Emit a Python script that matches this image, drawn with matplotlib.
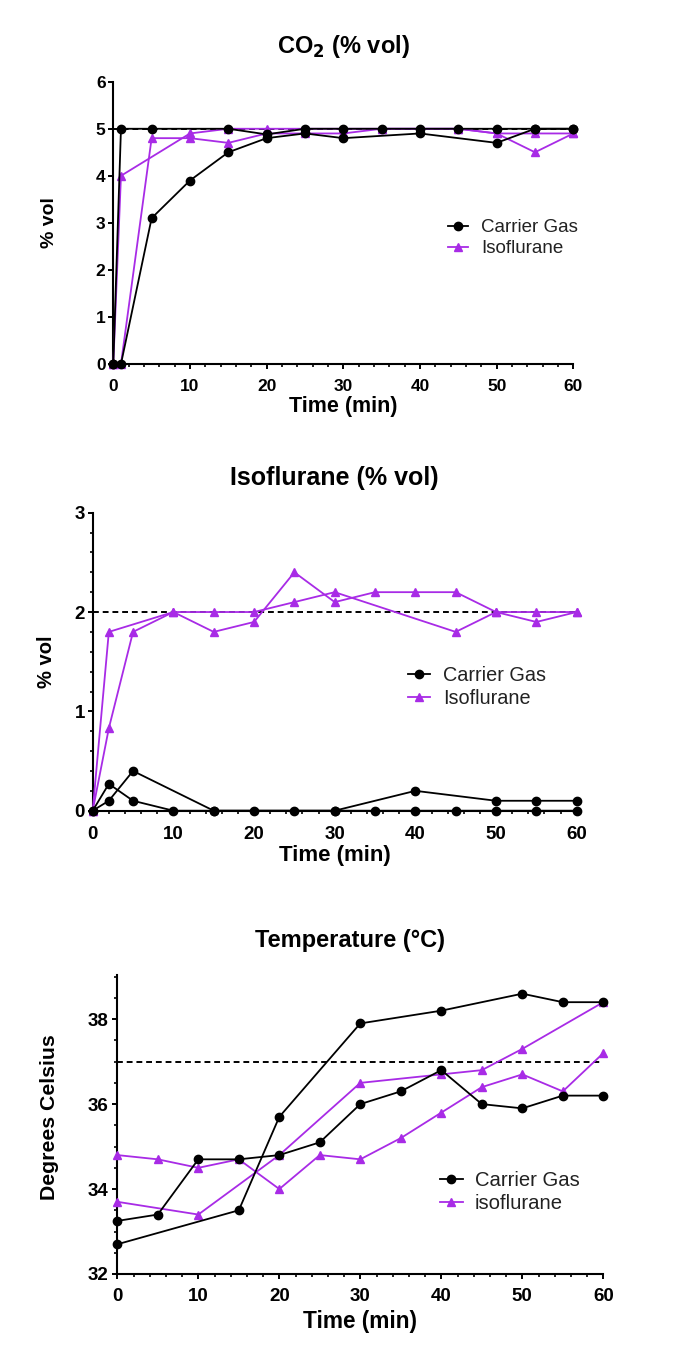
import matplotlib
matplotlib.use("Agg")
import matplotlib.pyplot as plt
from matplotlib.ticker import MultipleLocator
from matplotlib.lines import Line2D

plt.rcParams['font.family'] = ['Liberation Sans', 'DejaVu Sans']
plt.rcParams['font.weight'] = 'bold'

BLACK = '#000000'
PURPLE = '#A82BE6'

# ---- Panel 1: CO2 (% vol) ----
co2_cg1_x = [0, 1, 5, 15, 20, 25, 30, 35, 40, 45, 50, 55, 60]
co2_cg1_y = [0, 5.0, 5.0, 5.0, 4.88, 5.0, 5.0, 5.0, 5.0, 5.0, 5.0, 5.0, 5.0]
co2_cg2_x = [0, 1, 5, 10, 15, 20, 25, 30, 40, 50, 55, 60]
co2_cg2_y = [0, 0, 3.1, 3.9, 4.5, 4.8, 4.9, 4.8, 4.9, 4.7, 5.0, 5.0]
co2_iso1_x = [0, 1, 10, 15, 20, 25, 30, 35, 40, 45, 50, 55, 60]
co2_iso1_y = [0, 4.0, 4.9, 5.0, 5.0, 5.0, 5.0, 5.0, 5.0, 5.0, 4.9, 4.9, 4.9]
co2_iso2_x = [0, 1, 5, 10, 15, 20, 25, 30, 35, 40, 45, 50, 55, 60]
co2_iso2_y = [0, 0, 4.8, 4.8, 4.7, 4.9, 4.9, 4.9, 5.0, 5.0, 5.0, 4.9, 4.5, 4.9]
co2_target = 5

# ---- Panel 2: Isoflurane (% vol) ----
iso_cg1_x = [0, 2, 5, 10, 15, 20, 25, 30, 35, 40, 45, 50, 55, 60]
iso_cg1_y = [0, 0.27, 0.1, 0, 0, 0, 0, 0, 0, 0, 0, 0, 0, 0]
iso_cg2_x = [0, 2, 5, 15, 30, 40, 50, 55, 60]
iso_cg2_y = [0, 0.1, 0.4, 0, 0, 0.2, 0.1, 0.1, 0.1]
iso_iso1_x = [0, 2, 10, 15, 20, 25, 30, 45, 50, 55, 60]
iso_iso1_y = [0, 1.8, 2.0, 2.0, 2.0, 2.1, 2.2, 1.8, 2.0, 1.9, 2.0]
iso_iso2_x = [0, 2, 5, 10, 15, 20, 25, 30, 35, 40, 45, 50, 55, 60]
iso_iso2_y = [0, 0.83, 1.8, 2.0, 1.8, 1.9, 2.4, 2.1, 2.2, 2.2, 2.2, 2.0, 2.0, 2.0]
iso_target = 2

# ---- Panel 3: Temperature ----
t_cg1_x = [0, 15, 20, 30, 40, 50, 55, 60]
t_cg1_y = [32.7, 33.5, 35.7, 37.9, 38.2, 38.6, 38.4, 38.4]
t_cg2_x = [0, 5, 10, 15, 20, 25, 30, 35, 40, 45, 50, 55, 60]
t_cg2_y = [33.25, 33.4, 34.7, 34.7, 34.8, 35.1, 36.0, 36.3, 36.8, 36.0, 35.9, 36.2, 36.2]
t_iso1_x = [0, 5, 10, 15, 20, 25, 30, 35, 40, 45, 50, 55, 60]
t_iso1_y = [34.8, 34.7, 34.5, 34.7, 34.0, 34.8, 34.7, 35.2, 35.8, 36.4, 36.7, 36.3, 37.2]
t_iso2_x = [0, 10, 20, 30, 40, 45, 50, 60]
t_iso2_y = [33.7, 33.4, 34.8, 36.5, 36.7, 36.8, 37.3, 38.4]
t_target = 37

xticks = [0, 10, 20, 30, 40, 50, 60]

W, H = 675.0, 1362.0
fig = plt.figure(figsize=(W / 100, H / 100), dpi=100)


def fx(px):
    return px / W


def fy(py):
    return 1 - py / H


def px_axes(left, top, right, bottom):
    return fig.add_axes([fx(left), fy(bottom), (right - left) / W, (bottom - top) / H])


def style(ax, ylim, yticks, yminor, ticksize, xpad, ypad):
    ax.set_xlim(0, 60)
    ax.set_ylim(*ylim)
    ax.set_xticks(xticks)
    ax.xaxis.set_minor_locator(MultipleLocator(2))
    ax.set_yticks(yticks)
    if yminor:
        ax.yaxis.set_minor_locator(MultipleLocator(yminor))
    for s in ['top', 'right']:
        ax.spines[s].set_visible(False)
    for s in ['left', 'bottom']:
        ax.spines[s].set_linewidth(1.5)
    ax.tick_params(which='major', length=3.8, width=1.4, labelsize=ticksize)
    ax.tick_params(which='minor', length=2.2, width=1.2)
    ax.tick_params(axis='x', which='major', pad=xpad)
    ax.tick_params(axis='y', which='major', pad=ypad)
    for lab in ax.get_xticklabels() + ax.get_yticklabels():
        lab.set_fontweight('bold')
    ax.patch.set_alpha(0)


def plot_series(ax, x, y, color, marker, ms):
    ax.plot(x, y, color=color, marker=marker, markersize=ms, linewidth=1.3,
            clip_on=False, zorder=3)


def legend(ax, labels, hx, cy, size, hl, tp, ls):
    handles = [Line2D([], [], color=BLACK, marker='o', markersize=6, linewidth=1.3),
               Line2D([], [], color=PURPLE, marker='^', markersize=5.5, linewidth=1.3)]
    lg = ax.legend(handles, labels, loc='center left', bbox_to_anchor=(fx(hx), fy(cy)),
                   bbox_transform=fig.transFigure, frameon=False,
                   prop={'family': 'Liberation Sans', 'weight': 'normal', 'size': size},
                   handlelength=hl, handletextpad=tp, labelspacing=ls, borderpad=0,
                   borderaxespad=0)
    for t in lg.get_texts():
        t.set_color('#222222')


def ftext(x, y, s, size, rot=0):
    fig.text(fx(x), fy(y), s, ha='center', va='center', fontsize=size,
             fontweight='bold', rotation=rot)


# Panel 1
ax1 = px_axes(113.3, 81.7, 573.3, 364)
ax1.plot([0, 60], [co2_target, co2_target], color=BLACK, linestyle=(0, (3, 2)), linewidth=1.4, zorder=2)
plot_series(ax1, co2_iso1_x, co2_iso1_y, PURPLE, '^', 5.5)
plot_series(ax1, co2_iso2_x, co2_iso2_y, PURPLE, '^', 5.5)
plot_series(ax1, co2_cg1_x, co2_cg1_y, BLACK, 'o', 6)
plot_series(ax1, co2_cg2_x, co2_cg2_y, BLACK, 'o', 6)
style(ax1, (0, 6), [0, 1, 2, 3, 4, 5, 6], None, 12.5, 7, 1.8)
legend(ax1, ['Carrier Gas', 'Isoflurane'], 448, 238.3, 13.5, 1.07, 0.7, 0.2)
ftext(343, 47, 'CO$_\\mathbf{2}$ (% vol)', 17)
ftext(343.3, 406.5, 'Time (min)', 15.5)
ftext(49, 223, '% vol', 14, 90)

# Panel 2
ax2 = px_axes(92.7, 512.7, 576.7, 810.7)
ax2.plot([0, 60], [iso_target, iso_target], color=BLACK, linestyle=(0, (3, 2)), linewidth=1.4, zorder=2)
plot_series(ax2, iso_iso1_x, iso_iso1_y, PURPLE, '^', 5.5)
plot_series(ax2, iso_iso2_x, iso_iso2_y, PURPLE, '^', 5.5)
plot_series(ax2, iso_cg1_x, iso_cg1_y, BLACK, 'o', 6)
plot_series(ax2, iso_cg2_x, iso_cg2_y, BLACK, 'o', 6)
style(ax2, (0, 3), [0, 1, 2, 3], 0.2, 13.5, 7, 1.8)
legend(ax2, ['Carrier Gas', 'Isoflurane'], 408, 687, 14.3, 1.09, 0.67, 0.2)
ftext(334, 478, 'Isoflurane (% vol)', 18)
ftext(334.7, 856, 'Time (min)', 16)
ftext(46, 662, '% vol', 14.5, 90)

# Panel 3
ax3 = px_axes(117.3, 975, 603.3, 1274)
ax3.plot([0, 60], [t_target, t_target], color=BLACK, linestyle=(0, (3, 2)), linewidth=1.4, zorder=2)
plot_series(ax3, t_iso1_x, t_iso1_y, PURPLE, '^', 5.5)
plot_series(ax3, t_iso2_x, t_iso2_y, PURPLE, '^', 5.5)
plot_series(ax3, t_cg1_x, t_cg1_y, BLACK, 'o', 6)
plot_series(ax3, t_cg2_x, t_cg2_y, BLACK, 'o', 6)
style(ax3, (32, 39.04), [32, 34, 36, 38], 0.5, 13.5, 6.5, 2.5)
legend(ax3, ['Carrier Gas', 'isoflurane'], 440, 1191.8, 14.6, 1.13, 0.58, 0.2)
ftext(350, 940, 'Temperature (°C)', 17)
ftext(360.3, 1321.7, 'Time (min)', 16.3)
ftext(49.3, 1117, 'Degrees Celsius', 15.3, 90)

fig.savefig('out.png', dpi=100)
